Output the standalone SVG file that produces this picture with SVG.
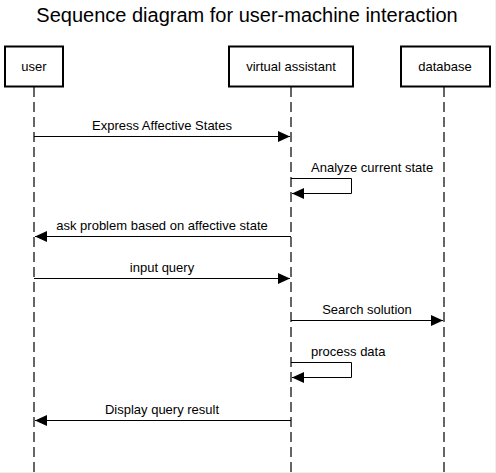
<svg xmlns="http://www.w3.org/2000/svg" width="496" height="473" viewBox="0 0 496 473">
<defs>
<style>
.box{fill:#fff;stroke:#000;stroke-width:2}
.life{stroke:#333;stroke-width:1.5;stroke-dasharray:10 5;fill:none}
.msg{stroke:#000;stroke-width:1;fill:none}
.t{font-family:"Liberation Sans",Arial,sans-serif;font-size:13px;fill:#000;text-anchor:middle}
.tl{font-family:"Liberation Sans",Arial,sans-serif;font-size:13px;fill:#000;text-anchor:start}
.title{font-family:"Liberation Sans",Arial,sans-serif;font-size:20px;fill:#000;text-anchor:middle}
</style>
<marker id="ah" viewBox="0 0 12 11" refX="12" refY="5.5" markerWidth="12" markerHeight="11" markerUnits="userSpaceOnUse" orient="auto">
<path d="M0,0 L12,5.5 L0,11 z" fill="#000"/>
</marker>
</defs>
<rect x="0" y="0" width="496" height="473" fill="#fff"/>
<path d="M495.5 0 V472.5 H0" fill="none" stroke="#eee"/>
<text class="title" x="247" y="22">Sequence diagram for user-machine interaction</text>
<g id="lifelines">
<line class="life" x1="34" y1="87" x2="34" y2="473"/>
<line class="life" x1="291" y1="87" x2="291" y2="473"/>
<line class="life" x1="444" y1="87" x2="444" y2="473"/>
</g>
<g id="user">
<rect class="box" x="5" y="46.5" width="58" height="40"/>
<text class="t" x="34" y="71">user</text>
</g>
<g id="assistant">
<rect class="box" x="229" y="46.5" width="124" height="40"/>
<text class="t" x="291" y="71">virtual assistant</text>
</g>
<g id="database">
<rect class="box" x="401" y="46.5" width="89" height="40"/>
<text class="t" x="445" y="71">database</text>
</g>
<g id="connectors">
<path class="msg" d="M34 136.5 H290" marker-end="url(#ah)"/>
<path class="msg" d="M291 178.5 H351.5 V193.5 H292" marker-end="url(#ah)"/>
<path class="msg" d="M291 236.5 H35" marker-end="url(#ah)"/>
<path class="msg" d="M34 278.5 H290" marker-end="url(#ah)"/>
<path class="msg" d="M291 320.5 H443" marker-end="url(#ah)"/>
<path class="msg" d="M291 362.5 H351.5 V377.5 H292" marker-end="url(#ah)"/>
<path class="msg" d="M291 420.5 H35" marker-end="url(#ah)"/>
</g>
<g id="labels">
<text class="t" x="162" y="130">Express Affective States</text>
<text class="tl" x="311" y="172">Analyze current state</text>
<text class="t" x="162" y="230">ask problem based on affective state</text>
<text class="t" x="162" y="272">input query</text>
<text class="t" x="367" y="314">Search solution</text>
<text class="tl" x="311" y="356">process data</text>
<text class="t" x="162" y="414">Display query result</text>
</g>
</svg>
